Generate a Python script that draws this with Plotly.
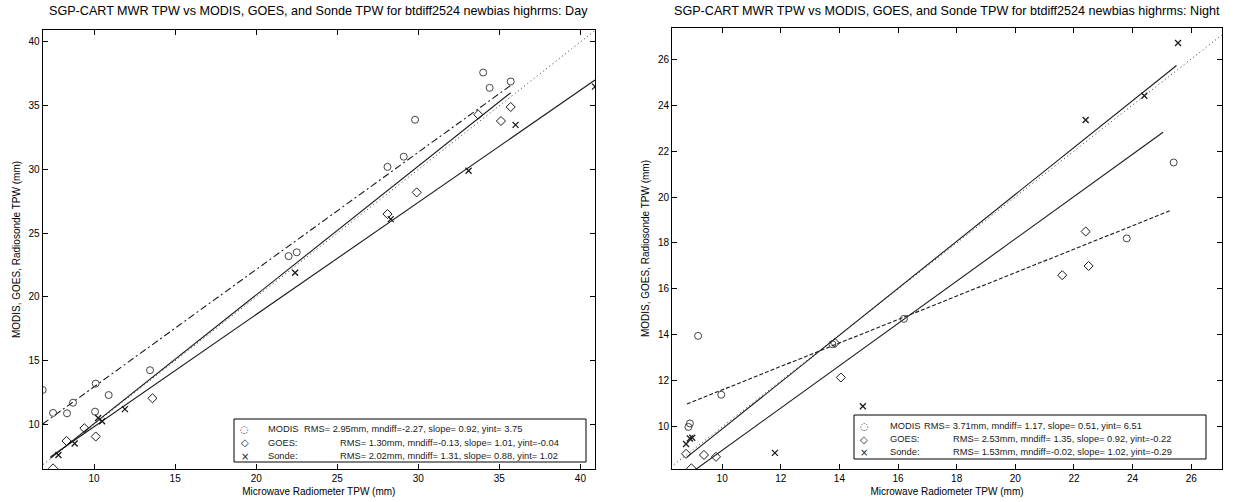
import plotly.graph_objects as go

W, H = 1236, 502

# ---------------- data ----------------
series_names = ["MODIS", "GOES", "Sonde"]

# Day panel
modis_day_x = [6.83, 7.47, 8.33, 8.7, 10.06, 10.1, 10.9, 13.45, 22.0, 22.5, 28.1, 29.1, 29.8, 34.0, 34.4, 35.7]
modis_day_y = [12.7, 10.9, 10.87, 11.7, 11.0, 13.2, 12.3, 14.25, 23.2, 23.5, 30.2, 31.0, 33.9, 37.6, 36.4, 36.9]
goes_day_x = [7.47, 8.3, 9.4, 10.1, 13.6, 28.1, 29.9, 33.7, 35.1, 35.7]
goes_day_y = [6.55, 8.7, 9.7, 9.05, 12.05, 26.5, 28.2, 34.3, 33.8, 34.9]
sonde_day_x = [7.8, 8.8, 10.25, 10.5, 11.9, 22.4, 28.3, 33.1, 36.0, 40.9]
sonde_day_y = [7.6, 8.5, 10.5, 10.25, 11.2, 21.9, 26.1, 29.9, 33.5, 36.5]

day_rms = [2.95, 1.30, 2.02]
day_mndiff = [-2.27, -0.13, 1.31]
day_slope = [0.92, 1.01, 0.88]
day_yint = [3.75, -0.04, 1.02]
day_fit_xmin = [6.83, 7.3, 7.3]
day_fit_xmax = [35.7, 35.7, 40.9]

# Night panel
modis_night_x = [8.85, 8.9, 9.18, 9.97, 13.76, 16.2, 23.8, 25.4]
modis_night_y = [10.0, 10.15, 13.96, 11.4, 13.6, 14.7, 18.2, 21.5]
goes_night_x = [8.77, 8.95, 9.38, 9.79, 13.85, 14.05, 21.6, 22.4, 22.5]
goes_night_y = [8.83, 8.2, 8.78, 8.7, 13.65, 12.15, 16.6, 18.5, 17.0]
sonde_night_x = [8.77, 8.9, 8.98, 11.8, 14.8, 22.4, 24.4, 25.55]
sonde_night_y = [9.26, 9.5, 9.53, 8.87, 10.9, 23.35, 24.4, 26.7]

night_rms = [3.71, 2.53, 1.53]
night_mndiff = [1.17, 1.35, -0.02]
night_slope = [0.51, 0.92, 1.02]
night_yint = [6.51, -0.22, -0.29]
night_fit_xmin = [8.8, 8.94, 8.8]
night_fit_xmax = [25.3, 25.04, 25.5]

day_range_x = [6.83, 40.9]
day_range_y = [6.5, 40.94]
night_range_x = [8.29, 27.05]
night_range_y = [8.17, 27.35]

day_ticks = [10, 15, 20, 25, 30, 35, 40]
night_ticks = [10, 12, 14, 16, 18, 20, 22, 24, 26]

title_day = "SGP-CART MWR TPW vs MODIS, GOES, and Sonde TPW for btdiff2524 newbias highrms: Day"
title_night = "SGP-CART MWR TPW vs MODIS, GOES, and Sonde TPW for btdiff2524 newbias highrms: Night"
xlab = "Microwave Radiometer TPW (mm)"
ylab = "MODIS, GOES, Radiosonde TPW (mm)"

# ---------------- styling ----------------
FONT = "Liberation Sans, Arial, Helvetica, sans-serif"
INK = "#1a1a1a"

def px(p):
    return p / W

def py(p):
    return 1 - p / H

# panel geometry in pixels (left, right, top, bottom)
panels = {
    "day": dict(l=42.7, r=595, t=30, b=469),
    "night": dict(l=672, r=1222, t=28, b=469),
}

fig = go.Figure()

marker_styles = [
    dict(symbol="circle-open", size=7, color="#444", line=dict(width=1, color="#444")),
    dict(symbol="diamond-open", size=7, color=INK, line=dict(width=1, color=INK)),
    dict(symbol="x-thin-open", size=6, color=INK, line=dict(width=1.3, color=INK)),
]

def add_panel(xs_list, ys_list, slope, yint, fxmin, fxmax, rng_x, rng_y, modis_dash, xa, ya):
    # 1:1 dotted line
    lo = min(rng_x[0], rng_y[0]) - 1
    hi = max(rng_x[1], rng_y[1]) + 1
    fig.add_trace(go.Scatter(x=[lo, hi], y=[lo, hi], mode="lines",
                             line=dict(color="#333", width=1, dash="1px,3px"),
                             xaxis=xa, yaxis=ya, hoverinfo="skip"))
    dashes = [modis_dash, "solid", "solid"]
    for i in range(3):
        xl = [fxmin[i], fxmax[i]]
        yl = [slope[i] * v + yint[i] for v in xl]
        fig.add_trace(go.Scatter(x=xl, y=yl, mode="lines",
                                 line=dict(color=INK, width=1.1, dash=dashes[i]),
                                 xaxis=xa, yaxis=ya, hoverinfo="skip"))
    for i in range(3):
        fig.add_trace(go.Scatter(x=xs_list[i], y=ys_list[i], mode="markers",
                                 marker=marker_styles[i], name=series_names[i],
                                 xaxis=xa, yaxis=ya))

add_panel([modis_day_x, goes_day_x, sonde_day_x], [modis_day_y, goes_day_y, sonde_day_y],
          day_slope, day_yint, day_fit_xmin, day_fit_xmax, day_range_x, day_range_y,
          "7px,3px,2px,3px", "x", "y")
add_panel([modis_night_x, goes_night_x, sonde_night_x], [modis_night_y, goes_night_y, sonde_night_y],
          night_slope, night_yint, night_fit_xmin, night_fit_xmax, night_range_x, night_range_y,
          "4px,2px", "x2", "y2")

def axis(rng, dom, ticks, title, standoff, tsize):
    return dict(range=rng, domain=dom, tickvals=ticks, ticktext=[str(t) for t in ticks],
                showline=True, linecolor="black", linewidth=1, mirror="ticks",
                ticks="inside", ticklen=5, tickcolor="black", tickwidth=1,
                showgrid=False, zeroline=False,
                tickfont=dict(family=FONT, size=10, color="black"),
                title=dict(text=title, font=dict(family=FONT, size=tsize, color="black"), standoff=standoff),
                automargin=False)

d = panels["day"]
n = panels["night"]
fig.update_layout(
    xaxis=dict(axis(day_range_x, [px(d["l"]), px(d["r"])], day_ticks, xlab, 4, 10), anchor="y"),
    yaxis=dict(axis(day_range_y, [py(d["b"]), py(d["t"])], day_ticks, ylab, 6, 10), anchor="x"),
    xaxis2=dict(axis(night_range_x, [px(n["l"]), px(n["r"])], night_ticks, xlab, 4, 10), anchor="y2"),
    yaxis2=dict(axis(night_range_y, [py(n["b"]), py(n["t"])], night_ticks, ylab, 6, 10), anchor="x2"),
)

annotations = []
shapes = []

# titles
for p, t in ((d, title_day), (n, title_night)):
    annotations.append(dict(x=px((p["l"] + p["r"]) / 2), y=py(11), xref="paper", yref="paper",
                            text=t, showarrow=False, xanchor="center", yanchor="middle",
                            font=dict(family=FONT, size=12.6, color="black")))

# in-plot legends
glyphs = ["◌", "◇", "×"]
labels = ["MODIS", "GOES:", "Sonde:"]
LEG = 9.3

def stats_text(rms, md, sl, yi):
    return f"RMS={rms:5.2f}mm, mndiff={md:5.2f}, slope={sl:5.2f}, yint={yi:5.2f}"

legend_geo = [
    dict(box=(234, 586, 419, 462), gx=244.5, lx=265.5, sx=[302, 338, 338], rows=[429, 442.5, 456],
         rms=day_rms, md=day_mndiff, sl=day_slope, yi=day_yint),
    dict(box=(854, 1206, 415, 459), gx=864, lx=888, sx=[922, 951, 951], rows=[426, 439, 452],
         rms=night_rms, md=night_mndiff, sl=night_slope, yi=night_yint),
]
for g in legend_geo:
    x0, x1, y0, y1 = g["box"]
    shapes.append(dict(type="rect", xref="paper", yref="paper", x0=px(x0), x1=px(x1), y0=py(y1), y1=py(y0),
                       line=dict(color="black", width=1), fillcolor="white", layer="above"))
    for i in range(3):
        yy = py(g["rows"][i])
        annotations.append(dict(x=px(g["gx"]), y=yy, xref="paper", yref="paper", text=glyphs[i],
                                showarrow=False, xanchor="center", yanchor="middle",
                                font=dict(family="DejaVu Sans", size=10, color=INK)))
        annotations.append(dict(x=px(g["lx"]), y=yy, xref="paper", yref="paper", text=labels[i],
                                showarrow=False, xanchor="left", yanchor="middle",
                                font=dict(family=FONT, size=LEG, color=INK)))
        annotations.append(dict(x=px(g["sx"][i]), y=yy, xref="paper", yref="paper",
                                text=stats_text(g["rms"][i], g["md"][i], g["sl"][i], g["yi"][i]),
                                showarrow=False, xanchor="left", yanchor="middle",
                                font=dict(family=FONT, size=LEG, color=INK)))

fig.update_layout(
    width=W, height=H,
    margin=dict(l=0, r=0, t=0, b=0),
    paper_bgcolor="white", plot_bgcolor="white",
    showlegend=False,
    annotations=annotations, shapes=shapes,
)

fig.write_html("out.html")
